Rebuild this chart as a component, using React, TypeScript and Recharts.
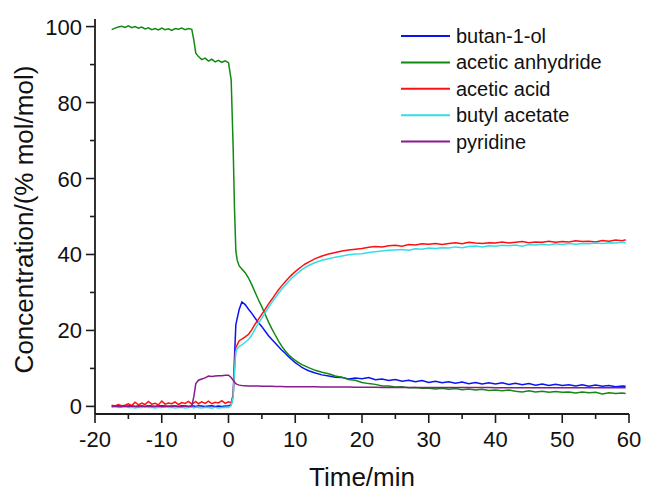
import { LineChart, Line, XAxis, YAxis } from "recharts";

// time axis (min) – denser around the injection at t = 0
const time = [
  -17.5, -17, -16.5, -16, -15.5, -15, -14.5, -14, -13.5, -13, -12.5, -12, -11.5, -11, -10.5, -10, -9.5, -9, -8.5, -8, -7.5, -7, -6.5, -6, -5.5,
  -5.2, -4.9, -4.5, -4, -3.5, -3, -2.5, -2, -1.5, -1, -0.5, 0, 0.4, 0.7, 0.9, 1.1, 1.3, 1.6, 2, 2.5, 3, 3.5, 4, 4.5, 5, 5.5, 6, 6.5, 7, 7.5, 8, 8.5, 9, 9.5, 10,
  10.5, 11, 11.5, 12, 13, 14, 15, 16, 17, 18, 19, 20, 21, 22, 23, 24, 25, 26, 27, 28, 29, 30, 31, 32, 33, 34, 35, 36, 37, 38, 39, 40, 41, 42, 43, 44, 45, 46, 47, 48, 49, 50, 51, 52, 53, 54, 55, 56, 57, 58, 59, 59.5,
];

const butanol = [
  0.1, 0.0, 0.2, 0.1, 0.0, 0.1, 0.2, 0.0, 0.1, 0.1, 0.0, 0.2, 0.1, 0.0, 0.1, 0.2, 0.1, 0.0, 0.1, 0.1, 0.0, 0.2, 0.1, 0.0, 0.1,
  0.1, 0.0, 0.2, 0.1, 0.0, 0.1, 0.2, 0.0, 0.1, 0.0, 0.1, 0.2, 0.4, 3.0, 13.0, 21.5, 23.2, 25.5, 27.5, 26.8, 25.6, 24.5, 23.2, 22.0, 21.0, 19.8, 18.6, 17.6, 16.7, 15.7, 14.8, 14.0, 13.1, 12.3, 11.5,
  10.9, 10.3, 9.8, 9.4, 8.8, 8.3, 8.0, 7.7, 7.6, 7.2, 7.5, 7.3, 7.6, 7.0, 7.2, 6.8, 7.1, 6.6, 6.9, 6.5, 6.8, 6.3, 6.6, 6.2, 6.5, 6.1, 6.4, 6.0, 6.3, 5.9, 6.2, 5.9, 6.2, 5.8, 6.1, 5.7, 6.0, 5.6, 5.9, 5.5, 5.8, 5.5, 5.7, 5.4, 5.7, 5.3, 5.6, 5.3, 5.5, 5.2, 5.4, 5.3,
];

const anhydride = [
  99.2, 99.6, 99.9, 100.1, 99.8, 100.2, 99.7, 100.0, 99.6, 99.9, 99.4, 99.7, 99.2, 99.5, 99.1, 99.6, 99.2, 99.4, 99.0, 99.5, 99.3, 99.6, 99.2, 99.5, 99.3,
  96.5, 93.0, 92.1, 91.3, 91.7, 90.9, 91.4, 90.7, 91.1, 90.6, 91.0, 90.5, 86.0, 68.0, 52.0, 41.0, 38.5, 37.0, 36.2, 35.2, 33.8, 32.0, 30.0, 28.0, 26.2, 24.2, 22.2, 20.4, 18.8, 17.2, 15.8, 14.6, 13.6, 12.8, 12.1,
  11.5, 11.0, 10.6, 10.2, 9.5, 9.0, 8.6, 8.0, 7.7, 7.1, 6.9, 6.3, 6.0, 5.8, 5.4, 5.4, 5.1, 5.2, 4.9, 5.0, 4.8, 4.8, 4.6, 4.8, 4.5, 4.7, 4.4, 4.6, 4.3, 4.5, 4.2, 4.3, 4.1, 4.3, 4.0, 3.8, 4.1, 3.8, 4.0, 3.7, 3.9, 3.7, 3.8, 3.5, 3.8, 3.6, 3.7, 3.3, 3.6, 3.4, 3.5, 3.4,
];

const aceticAcid = [
  0.3, 0.1, 0.5, 0.2, 0.3, 0.7, 0.2, 1.1, 0.4, 0.9, 0.5, 1.3, 0.6, 0.8, 0.4, 1.4, 0.6, 0.9, 0.7, 1.2, 0.5, 1.0, 0.8, 1.3, 0.6,
  0.9, 1.3, 0.7, 1.2, 0.8, 1.4, 0.7, 1.1, 0.9, 1.5, 0.8, 1.2, 1.0, 3.0, 10.0, 15.5, 16.2, 17.3, 17.7, 18.3, 19.0, 20.2, 21.7, 23.0, 24.3, 25.6, 27.0, 28.2, 29.5, 30.7, 31.8, 32.8, 33.8, 34.7, 35.5,
  36.2, 36.9, 37.5, 38.0, 38.9, 39.6, 40.1, 40.5, 40.9, 41.2, 41.4, 41.6, 41.9, 42.1, 42.0, 42.3, 42.4, 42.2, 42.6, 42.5, 42.8, 42.7, 42.9, 42.6, 42.9, 43.1, 42.8, 43.2, 43.0, 42.9, 43.1, 43.0, 43.3, 43.0, 43.2, 43.4, 43.1, 43.3, 43.2, 43.5, 43.2, 43.4, 43.3, 43.6, 43.4, 43.5, 43.3, 43.7, 43.5, 43.8, 43.6, 43.9,
];

const butylAcetate = [
  -0.2, -0.1, -0.3, -0.2, -0.1, -0.3, -0.2, -0.4, -0.2, -0.3, -0.1, -0.3, -0.2, -0.4, -0.2, -0.3, -0.1, -0.3, -0.2, -0.4, -0.3, -0.2, -0.4, -0.3, -0.2,
  -0.4, -0.2, -0.3, -0.4, -0.2, -0.3, -0.5, -0.2, -0.4, -0.3, -0.2, -0.3, 0.2, 2.5, 9.5, 14.5, 15.2, 15.8, 16.2, 16.9, 17.6, 18.8, 20.4, 21.9, 23.3, 24.7, 26.1, 27.4, 28.6, 29.8, 30.9, 31.9, 32.9, 33.8, 34.6,
  35.3, 36.0, 36.6, 37.1, 37.9, 38.5, 38.9, 39.3, 39.6, 39.9, 40.1, 40.2, 40.5, 40.7, 40.9, 41.1, 41.2, 41.3, 41.1, 41.5, 41.4, 41.7, 41.6, 41.8, 41.7, 42.0, 41.8, 42.1, 42.2, 42.0, 42.3, 42.2, 42.4, 42.3, 42.5, 42.2, 42.6, 42.5, 42.7, 42.5, 42.8, 42.6, 42.9, 42.7, 42.9, 42.8, 43.0, 42.9, 43.1, 43.0, 43.2, 43.1,
];

const pyridine = [
  0.0, 0.1, 0.0, 0.0, 0.1, 0.0, 0.1, 0.0, 0.0, 0.1, 0.0, 0.1, 0.0, 0.0, 0.1, 0.0, 0.0, 0.1, 0.0, 0.1, 0.0, 0.0, 0.1, 0.0, 0.1,
  2.5, 6.0, 6.9, 7.2, 7.5, 8.0, 7.9, 8.0, 8.1, 8.1, 8.2, 8.2, 7.6, 6.9, 6.4, 6.0, 5.8, 5.6, 5.5, 5.45, 5.4, 5.4, 5.35, 5.35, 5.3, 5.3, 5.3, 5.3, 5.25, 5.25, 5.25, 5.2, 5.2, 5.2, 5.2,
  5.2, 5.2, 5.15, 5.15, 5.15, 5.1, 5.1, 5.1, 5.1, 5.1, 5.05, 5.05, 5.05, 5.05, 5.0, 5.0, 5.0, 5.0, 5.0, 5.0, 5.0, 4.95, 4.95, 4.95, 4.95, 4.95, 4.95, 4.95, 4.95, 4.95, 4.95, 4.9, 4.9, 4.9, 4.9, 4.9, 4.9, 4.9, 4.9, 4.9, 4.9, 4.9, 4.9, 4.9, 4.9, 4.9, 4.9, 4.9, 4.9, 4.9, 4.9, 4.9,
];

const series = [
  { key: "butanol", name: "butan-1-ol", color: "#0a14f0", values: butanol },
  { key: "anhydride", name: "acetic anhydride", color: "#118a11", values: anhydride },
  { key: "acid", name: "acetic acid", color: "#ff1010", values: aceticAcid },
  { key: "ester", name: "butyl acetate", color: "#33dde8", values: butylAcetate },
  { key: "pyridine", name: "pyridine", color: "#8a1a8e", values: pyridine },
];

const xTicks = [-20, -15, -10, -5, 0, 5, 10, 15, 20, 25, 30, 35, 40, 45, 50, 55, 60];
const yTicks = [0, 10, 20, 30, 40, 50, 60, 70, 80, 90, 100];

const rows = time.map((t, i) => {
  const row: Record<string, number> = { t };
  series.forEach((s) => (row[s.key] = s.values[i]));
  return row;
});

const FONT = '"Liberation Sans", Arial, sans-serif';
const AXIS = "#1c1c1c";

const XTick = ({ x, y, payload }: any) => {
  const major = payload.value % 10 === 0;
  return (
    <g>
      <line x1={x} x2={x} y1={y} y2={y + (major ? 9 : 5)} stroke={AXIS} strokeWidth={1.6} />
      {major && (
        <text x={x} y={y + 33} textAnchor="middle" fontSize={22} fontFamily={FONT} fill="#111">
          {payload.value}
        </text>
      )}
    </g>
  );
};

const YTick = ({ x, y, payload }: any) => {
  const major = payload.value % 20 === 0;
  return (
    <g>
      <line x1={x} x2={x - (major ? 9 : 5)} y1={y} y2={y} stroke={AXIS} strokeWidth={1.6} />
      {major && (
        <text x={x - 13} y={y + 8} textAnchor="end" fontSize={22} fontFamily={FONT} fill="#111">
          {payload.value}
        </text>
      )}
    </g>
  );
};

const YTitle = ({ viewBox }: any) => {
  const cx = viewBox.x + 33;
  const cy = viewBox.y + viewBox.height / 2 + 3;
  return (
    <text x={cx} y={cy} transform={`rotate(-90, ${cx}, ${cy})`} textAnchor="middle" fontSize={26} fontFamily={FONT} fill="#111">
      Concentration/(% mol/mol)
    </text>
  );
};

const XTitle = ({ viewBox }: any) => (
  <text x={viewBox.x + viewBox.width / 2} y={viewBox.y + 72} textAnchor="middle" fontSize={26} fontFamily={FONT} fill="#111">
    Time/min
  </text>
);

export default function App() {
  return (
    <div style={{ position: "fixed", left: 0, top: 0, width: 646, height: 494, background: "#fff" }}>
      <LineChart width={646} height={494} data={rows} margin={{ top: 19, right: 17, bottom: 0, left: 0 }}>
        <XAxis
          dataKey="t"
          type="number"
          domain={[-20, 60]}
          ticks={xTicks}
          height={80}
          tickSize={0}
          tickMargin={0}
          tickLine={false}
          tick={<XTick />}
          axisLine={{ stroke: AXIS, strokeWidth: 1.8 }}
          label={XTitle}
        />
        <YAxis
          type="number"
          domain={[-2, 102]}
          ticks={yTicks}
          width={95}
          tickSize={0}
          tickMargin={0}
          tickLine={false}
          tick={<YTick />}
          axisLine={{ stroke: AXIS, strokeWidth: 1.8 }}
          label={YTitle}
        />
        {series.map((s) => (
          <Line
            key={s.key}
            dataKey={s.key}
            name={s.name}
            type="linear"
            stroke={s.color}
            strokeWidth={1.5}
            dot={false}
            isAnimationActive={false}
          />
        ))}
      </LineChart>
      {/* legend box, top right */}
      <svg width={240} height={140} style={{ position: "absolute", left: 398, top: 22 }}>
        {series.map((s, i) => (
          <g key={s.key} transform={`translate(0, ${14 + i * 26.4})`}>
            <line x1={3} x2={52} y1={0} y2={0} stroke={s.color} strokeWidth={2} />
            <text x={58} y={7} fontSize={20} fontFamily={FONT} fill="#111">
              {s.name}
            </text>
          </g>
        ))}
      </svg>
    </div>
  );
}
